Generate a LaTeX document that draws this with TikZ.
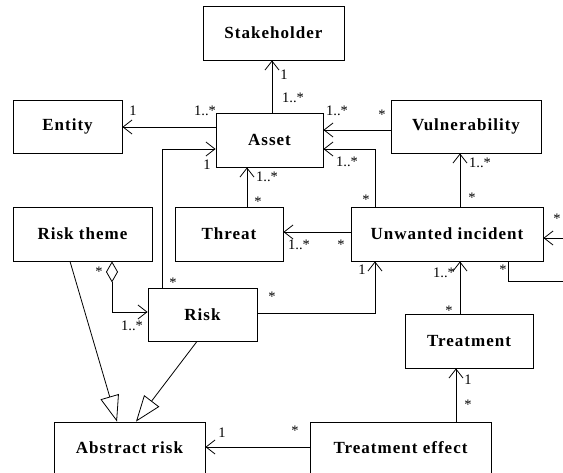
\documentclass[tikz,border=0pt]{standalone}
\usepackage{fontspec}
\setmainfont{Liberation Serif}
\newfontfamily\clsfam[LetterSpace=6]{Liberation Serif}
\usetikzlibrary{arrows.meta}
\tikzset{
  cls/.style={draw, line width=0.8pt, minimum height=54pt, inner sep=0pt,
    font=\clsfam\bfseries\fontsize{17}{19}\selectfont},
  lbl/.style={inner sep=0pt, font=\fontsize{14.5}{16}\selectfont},
  conn/.style={line width=0.8pt},
  assoc/.style={conn, -{Straight Barb[length=9pt,width=14pt,line width=0.8pt]}},
  gen/.style={conn, -{Triangle[open,length=26pt,width=19pt,line width=0.8pt]}},
  aggr/.style={conn, {Diamond[open,length=21pt,width=12pt,line width=0.8pt]}-{Straight Barb[length=9pt,width=14pt,line width=0.8pt]}}
}
\begin{document}
\begin{tikzpicture}[x=1pt,y=-1pt]
\useasboundingbox (0,0) rectangle (563,473);
\clip (0,0) rectangle (563,473);
\fill[white] (0,0) rectangle (563,473);

% classes
\node[cls, minimum width=141pt] (stake) at (273.5,33) {Stakeholder};
\node[cls, minimum width=107pt] (asset) at (269.5,140) {Asset};
\node[cls, minimum width=109pt, minimum height=53pt] (entity) at (67.5,126.5) {Entity};
\node[cls, minimum width=150pt, minimum height=53pt] (vuln) at (466,126.5) {Vulnerability};
\node[cls, minimum width=108pt] (threat) at (229,234) {Threat};
\node[cls, minimum width=192pt] (ui) at (447,234) {Unwanted incident};
\node[cls, minimum width=139pt] (theme) at (82.5,234) {Risk theme};
\node[cls, minimum width=109pt, minimum height=53pt] (risk) at (202.5,314.5) {Risk};
\node[cls, minimum width=128pt] (treat) at (469,341) {Treatment};
\node[cls, minimum width=151pt, minimum height=54pt] (abs) at (129.5,449) {\raisebox{2pt}{Abstract risk}};
\node[cls, minimum width=181pt, minimum height=54pt] (teff) at (400.5,449) {\raisebox{2pt}{Treatment effect}};

\coordinate (loopA) at (575,281);
\coordinate (loopB) at (575,238);

% Asset -> Stakeholder
\draw[assoc] (asset.north -| 272,0) -- (stake.south -| 272,0);
\node[lbl] (l1) at (284,75) {1};
\node[lbl] (l2) at (293,98) {1..*};
% Asset -> Entity
\draw[assoc] (asset.west |- 0,127) -- (entity.east |- 0,127);
\node[lbl] (l3) at (133,111) {1};
\node[lbl] (l4) at (205,111) {1..*};
% Vulnerability -> Asset
\draw[assoc] (vuln.west |- 0,130) -- (asset.east |- 0,130);
\node[lbl] (l5) at (337,111) {1..*};
\node[lbl] (l6) at (382,115) {*};
% UI -> Asset
\draw[assoc] (ui.north -| 375,0) |- (asset.east |- 0,149);
\node[lbl] (l7) at (347,162) {1..*};
\node[lbl] (l8) at (366,200) {*};
% UI -> Threat
\draw[assoc] (ui.west |- 0,232) -- (threat.east |- 0,232);
\node[lbl] (l9) at (299,245) {1..*};
\node[lbl] (l10) at (341,245) {*};
% Threat -> Asset
\draw[assoc] (threat.north -| 247,0) -- (asset.south -| 247,0);
\node[lbl] (l11) at (267,177) {1..*};
\node[lbl] (l12) at (258,202) {*};
% UI -> Vulnerability
\draw[assoc] (ui.north -| 460,0) -- (vuln.south -| 460,0);
\node[lbl] (l13) at (480,163) {1..*};
\node[lbl] (l14) at (472,198) {*};
% UI self loop
\draw[assoc] (ui.south -| 508,0) |- (loopA) -- (loopB) -- (ui.east |- 0,238);
\node[lbl] (l15) at (557,219) {*};
\node[lbl] (l16) at (503,270) {*};
% Treatment -> UI
\draw[assoc] (treat.north -| 460,0) -- (ui.south -| 460,0);
\node[lbl] (l17) at (444,273) {1..*};
\node[lbl] (l18) at (449,311) {*};
% Risk -> UI
\draw[assoc] (risk.east |- 0,313) -| (ui.south -| 375,0);
\node[lbl] (l19) at (272,297) {*};
\node[lbl] (l20) at (362,270) {1};
% Risk -> Asset
\draw[assoc] (risk.north -| 162,0) |- (asset.west |- 0,149);
\node[lbl] (l21) at (207,165) {1};
\node[lbl] (l22) at (173,283) {*};
% Risk theme <>-> Risk
\draw[aggr] (theme.south -| 112,0) |- (risk.west |- 0,312);
\node[lbl] (l23) at (99,272) {*};
\node[lbl] (l24) at (132,326) {1..*};
% generalizations
\draw[gen] (theme.south -| 70,0) -- (abs.north -| 117,0);
\draw[gen] (risk.south -| 197,0) -- (abs.north -| 136,0);
% Treatment effect -> Abstract risk
\draw[assoc] (teff.west |- 0,447) -- (abs.east |- 0,447);
\node[lbl] (l25) at (222,433) {1};
\node[lbl] (l26) at (295,431) {*};
% Treatment effect -> Treatment
\draw[assoc] (teff.north -| 456,0) -- (treat.south -| 456,0);
\node[lbl] (l27) at (468,380) {1};
\node[lbl] (l28) at (468,405) {*};
\end{tikzpicture}
\end{document}
